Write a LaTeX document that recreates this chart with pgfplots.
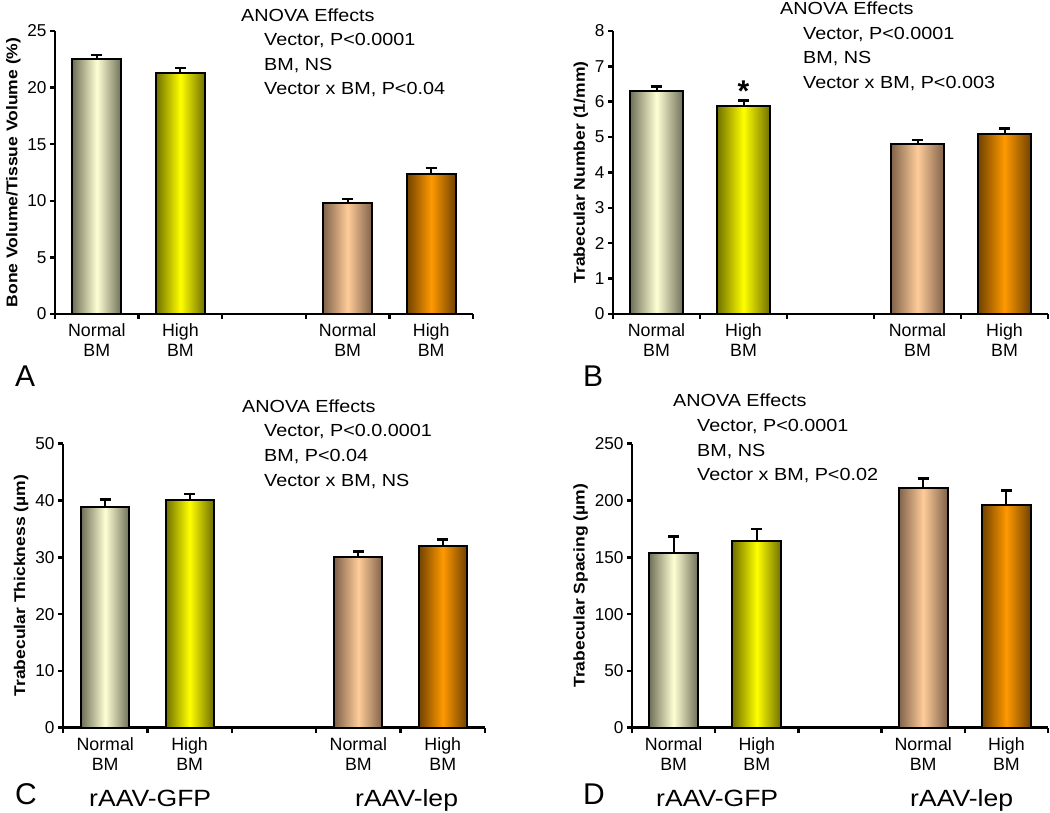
\documentclass[border=0pt]{standalone}
\usepackage{pgfplots}
\pgfplotsset{compat=1.18}
\usepackage{fontspec}
\setmainfont{Liberation Sans}
\newfontfamily\wide[FakeStretch=1.13]{Liberation Sans}
\definecolor{ngE}{RGB}{112,112,90}
\definecolor{ngM}{RGB}{255,255,212}
\definecolor{hgE}{RGB}{112,112,0}
\definecolor{hgM}{RGB}{255,255,0}
\definecolor{nlE}{RGB}{128,98,74}
\definecolor{nlM}{RGB}{255,204,153}
\definecolor{hlE}{RGB}{112,66,0}
\definecolor{hlM}{RGB}{255,153,0}
\pgfplotsset{
  panel/.style={
    scale only axis, anchor=south west,
    xmin=-0.5, xmax=4.5, ymin=0,
    axis x line*=bottom, axis y line*=left,
    axis line style={line width=2.5pt, black},
    xtick={-0.5,0.5,1.5,2.5,3.5,4.5}, xticklabels={},
    extra x ticks={0,1,3,4},
    extra x tick labels={Normal\\BM,High\\BM,Normal\\BM,High\\BM},
    extra x tick style={major tick length=0pt,
      xticklabel style={align=center, yshift=-6pt, font=\fontsize{17.8}{20}\selectfont}},
    tick align=outside, major tick length=5pt,
    every tick/.style={line width=2.5pt, black},
    /pgf/number format/assume math mode=true,
    yticklabel style={font=\fontsize{17.2}{18}\selectfont},
    ylabel style={font=\wide\bfseries\fontsize{15.5}{17}\selectfont},
    clip=false,
  },
  bar/.style={ybar, bar width=#1, draw=black, line width=2pt},
  errs/.style={forget plot, draw=none, mark=none,
    error bars/.cd, y dir=plus, y explicit,
    error bar style={draw=black, solid, line width=2pt},
    error mark options={draw=black, rotate=90, line width=2.5pt, mark size=5.5pt}},
}
\newcommand{\anova}{\wide\fontsize{17.5}{22}\selectfont}
\begin{document}
\begin{tikzpicture}
\useasboundingbox (0,0) rectangle (1050pt,813pt);
% ---------- A ----------
\begin{axis}[panel, at={(55pt,499pt)}, width=418pt, height=283pt,
  ymax=25, ytick={0,5,...,25},
  ylabel={Bone Volume/Tissue Volume (\%)}]
\addplot[bar=49pt, left color=ngE, right color=ngE, middle color=ngM] coordinates {(0,22.5)};
\addplot[bar=49pt, left color=hgE, right color=hgE, middle color=hgM] coordinates {(1,21.3)};
\addplot[bar=49pt, left color=nlE, right color=nlE, middle color=nlM] coordinates {(3,9.8)};
\addplot[bar=49pt, left color=hlE, right color=hlE, middle color=hlM] coordinates {(4,12.4)};
\addplot[errs] coordinates {(0,22.5) +- (0,0.4) (1,21.3) +- (0,0.45) (3,9.8) +- (0,0.35) (4,12.4) +- (0,0.5)};
\end{axis}
% ---------- B ----------
\begin{axis}[panel, at={(613pt,499pt)}, width=435pt, height=283pt,
  ymax=8, ytick={0,1,...,8},
  ylabel={Trabecular Number (1/mm)}]
\addplot[bar=53pt, left color=ngE, right color=ngE, middle color=ngM] coordinates {(0,6.30)};
\addplot[bar=53pt, left color=hgE, right color=hgE, middle color=hgM] coordinates {(1,5.88)};
\addplot[bar=53pt, left color=nlE, right color=nlE, middle color=nlM] coordinates {(3,4.80)};
\addplot[bar=53pt, left color=hlE, right color=hlE, middle color=hlM] coordinates {(4,5.08)};
\addplot[errs] coordinates {(0,6.30) +- (0,0.13) (1,5.88) +- (0,0.15) (3,4.80) +- (0,0.12) (4,5.08) +- (0,0.16)};
\node[anchor=base, font=\bfseries\fontsize{30}{30}\selectfont] at (axis cs:1,6.02) {*};
\end{axis}
% ---------- C ----------
\begin{axis}[panel, at={(63pt,85.3pt)}, width=422pt, height=284pt,
  ymax=50, ytick={0,10,...,50},
  ylabel={Trabecular Thickness (µm)}]
\addplot[bar=48pt, left color=ngE, right color=ngE, middle color=ngM] coordinates {(0,38.8)};
\addplot[bar=48pt, left color=hgE, right color=hgE, middle color=hgM] coordinates {(1,40.1)};
\addplot[bar=48pt, left color=nlE, right color=nlE, middle color=nlM] coordinates {(3,30.1)};
\addplot[bar=48pt, left color=hlE, right color=hlE, middle color=hlM] coordinates {(4,32.0)};
\addplot[errs] coordinates {(0,38.8) +- (0,1.4) (1,40.1) +- (0,1.0) (3,30.1) +- (0,0.9) (4,32.0) +- (0,1.1)};
\end{axis}
% ---------- D ----------
\begin{axis}[panel, at={(632pt,85.3pt)}, width=416pt, height=284pt,
  ymax=250, ytick={0,50,...,250},
  ylabel={Trabecular Spacing (µm)}]
\addplot[bar=49pt, left color=ngE, right color=ngE, middle color=ngM] coordinates {(0,154)};
\addplot[bar=49pt, left color=hgE, right color=hgE, middle color=hgM] coordinates {(1,164)};
\addplot[bar=49pt, left color=nlE, right color=nlE, middle color=nlM] coordinates {(3,211)};
\addplot[bar=49pt, left color=hlE, right color=hlE, middle color=hlM] coordinates {(4,196)};
\addplot[errs] coordinates {(0,154) +- (0,14.5) (1,164) +- (0,11) (3,211) +- (0,8.5) (4,196) +- (0,13)};
\end{axis}
% ---------- annotations ----------
\begin{scope}[every node/.style={anchor=base west, inner sep=0pt, font=\anova}]
\node at (241pt,791.3pt) {ANOVA Effects};
\node at (264pt,767.3pt) {Vector, P<0.0001};
\node at (264pt,742.3pt) {BM, NS};
\node at (264pt,718pt) {Vector x BM, P<0.04};
\node at (780pt,798pt) {ANOVA Effects};
\node at (803pt,773pt) {Vector, P<0.0001};
\node at (803pt,749pt) {BM, NS};
\node at (803pt,724pt) {Vector x BM, P<0.003};
\node at (242pt,400pt) {ANOVA Effects};
\node at (264pt,376pt) {Vector, P<0.0.0001};
\node at (264pt,351pt) {BM, P<0.04};
\node at (264pt,326pt) {Vector x BM, NS};
\node at (673pt,406pt) {ANOVA Effects};
\node at (697pt,381pt) {Vector, P<0.0001};
\node at (697pt,356pt) {BM, NS};
\node at (697pt,332pt) {Vector x BM, P<0.02};
\end{scope}
\begin{scope}[every node/.style={anchor=base west, inner sep=0pt, font=\fontsize{30}{30}\selectfont}]
\node at (15pt,426pt) {A};
\node at (583pt,426pt) {B};
\node at (15pt,8pt) {C};
\node at (583pt,8pt) {D};
\end{scope}
\begin{scope}[every node/.style={anchor=base west, inner sep=0pt, font=\wide\fontsize{23.5}{24}\selectfont}]
\node at (89pt,6pt) {rAAV-GFP};
\node at (355pt,6pt) {rAAV-lep};
\node at (656pt,6pt) {rAAV-GFP};
\node at (910pt,6pt) {rAAV-lep};
\end{scope}
\end{tikzpicture}
\end{document}
